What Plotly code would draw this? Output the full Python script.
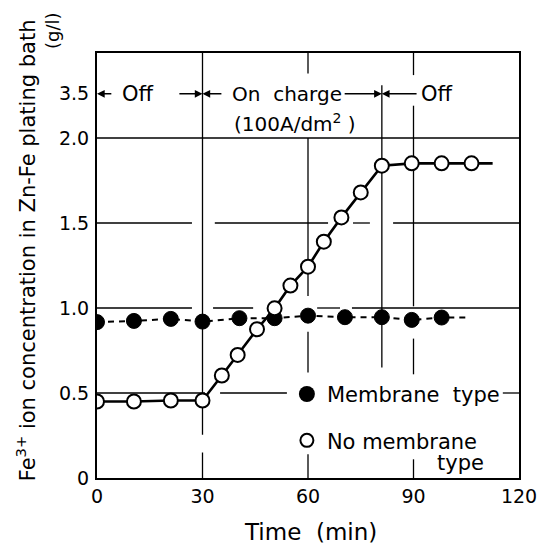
import plotly.graph_objects as go

# ---------------- data ----------------
membrane_time = [0, 10.5, 21, 30, 40.5, 50.5, 60, 70.5, 81, 89.5, 98]
membrane_conc = [0.917, 0.924, 0.936, 0.920, 0.940, 0.940, 0.955, 0.946, 0.946, 0.930, 0.944]
membrane_line_end_time = 105.0

nomem_time = [0, 10.5, 21, 30, 35.5, 40, 45.5, 50.5, 55, 60, 64.5, 69.5, 75, 81, 89.5, 98, 106.5]
nomem_conc = [0.450, 0.450, 0.456, 0.456, 0.603, 0.724, 0.875, 0.998, 1.132, 1.243,
              1.390, 1.533, 1.680, 1.837, 1.851, 1.851, 1.851]
nomem_line_end_time = 112.5

charge_start = 30
charge_end = 81

x_tickvals = [0, 30, 60, 90, 120]
x_ticktext = ["0", "30", "60", "90", "120"]
y_tickvals = [0, 0.5, 1.0, 1.5, 2.0, 2.26]
y_ticktext = ["0", "0.5", "1.0", "1.5", "2.0", "3.5"]

FONT = "DejaVu Sans"
NB = "\u00a0"

fig = go.Figure()

# lines (extended slightly past the last marker, as in the reference)
fig.add_trace(go.Scatter(
    x=membrane_time + [membrane_line_end_time],
    y=membrane_conc + [membrane_conc[-1]],
    mode="lines", line=dict(color="black", width=2, dash="6px,5px"),
    showlegend=False, hoverinfo="skip"))
fig.add_trace(go.Scatter(
    x=nomem_time + [nomem_line_end_time],
    y=nomem_conc + [nomem_conc[-1]],
    mode="lines", line=dict(color="black", width=2.6),
    showlegend=False, hoverinfo="skip"))
# markers
fig.add_trace(go.Scatter(
    x=membrane_time, y=membrane_conc, mode="markers",
    marker=dict(symbol="circle", size=15, color="black", line=dict(color="black", width=1)),
    showlegend=False))
fig.add_trace(go.Scatter(
    x=nomem_time, y=nomem_conc, mode="markers",
    marker=dict(symbol="circle", size=14, color="white", line=dict(color="black", width=2)),
    showlegend=False))
# legend entries (marker only)
fig.add_trace(go.Scatter(
    x=[None], y=[None], mode="markers", name="Membrane" + NB + NB + "type",
    legendgroup="a",
    marker=dict(symbol="circle", size=16, color="black")))
fig.add_trace(go.Scatter(
    x=[None], y=[None], mode="markers",
    name="No" + NB + "membrane",
    legendgroup="b",
    marker=dict(symbol="circle", size=13, color="white", line=dict(color="black", width=2))))

# ---------------- broken grid lines ----------------
h_segments = [
    (2.0, 0, 120),
    (1.5, 0, 27), (1.5, 33.5, 65.7), (1.5, 72.8, 77.6), (1.5, 84.2, 120),
    (1.0, 0, 27), (1.0, 33, 44.4), (1.0, 62.6, 69.1), (1.0, 72.5, 120),
    (0.5, 0, 30.7), (0.5, 35, 54), (0.5, 115.4, 120),
]
v_segments = [
    (30, 0, 0.15), (30, 0.255, 2.5),
    (60, 2.38, 2.5), (60, 1.07, 2.0), (60, 0.62, 0.86), (60, 0, 0.14),
    (90, 2.37, 2.5), (90, 1.01, 2.19), (90, 0.61, 0.82), (90, 0, 0.11),
    (charge_end, 0.65, 2.31),
]
shapes = []
for y, x0, x1 in h_segments:
    shapes.append(dict(type="line", xref="x", yref="y", x0=x0, x1=x1, y0=y, y1=y,
                       line=dict(color="black", width=1.3), layer="below"))
for x, y0, y1 in v_segments:
    shapes.append(dict(type="line", xref="x", yref="y", x0=x, x1=x, y0=y0, y1=y1,
                       line=dict(color="black", width=1.3), layer="below"))

# ---------------- annotations ----------------
row_y = 2.26
ann = []
def arrow(head, tail):
    ann.append(dict(x=head, y=row_y, ax=tail, ay=row_y, xref="x", yref="y",
                    axref="x", ayref="y", text="", showarrow=True,
                    arrowhead=2, arrowsize=1.1, arrowwidth=1.4, arrowcolor="black"))
arrow(0, 4.5)
arrow(charge_start, 23)
arrow(charge_start, 35.8)
arrow(charge_end, 70)
arrow(charge_end, 91.3)

def label(x, y, text, size=20):
    ann.append(dict(x=x, y=y, xref="x", yref="y", text=text, showarrow=False,
                    font=dict(family=FONT, size=size, color="black")))
label(11.7, row_y, "Off", 21)
label(54, row_y, "On" + NB + NB + "charge")
label(56.3, 2.09, "(100A/dm<sup>2</sup>" + NB + ")")
label(96.7, row_y, "Off", 21)
# second line of the "No membrane type" legend entry
label(103.3, 0.086, "type", 21)

# y-axis title (two rotated parts)
ann.append(dict(x=-0.168, y=0.536, xref="paper", yref="paper", showarrow=False,
                xanchor="center", yanchor="middle",
                text="Fe<sup>3+</sup>" + NB + "ion" + NB + "concentration" + NB + "in" + NB +
                     "Zn-Fe" + NB + "plating" + NB + "bath",
                textangle=-90, font=dict(family=FONT, size=21, color="black")))
ann.append(dict(x=-0.104, y=1.052, xref="paper", yref="paper", showarrow=False,
                xanchor="center", yanchor="middle",
                text="(g/l)", textangle=-90,
                font=dict(family=FONT, size=18, color="black")))
# x-axis title
ann.append(dict(x=0.505, y=-0.128, xref="paper", yref="paper", showarrow=False,
                xanchor="center", yanchor="middle",
                text="Time" + NB + NB + "(min)",
                font=dict(family=FONT, size=23, color="black")))

fig.update_layout(
    width=545, height=536,
    margin=dict(l=89, r=34, t=45, b=66),
    paper_bgcolor="white", plot_bgcolor="white",
    font=dict(family=FONT, size=19, color="black"),
    shapes=shapes, annotations=ann,
    legend=dict(x=0.45, y=0.245, xanchor="left", yanchor="top",
                bgcolor="rgba(0,0,0,0)", font=dict(family=FONT, size=21),
                itemsizing="trace", traceorder="grouped", tracegroupgap=16),
    xaxis=dict(range=[0, 120], tickvals=x_tickvals, ticktext=x_ticktext,
               showgrid=False, zeroline=False, showline=True, linecolor="black",
               linewidth=2, mirror=True, ticks="", automargin=False),
    yaxis=dict(range=[0, 2.5], tickvals=y_tickvals, ticktext=y_ticktext,
               showgrid=False, zeroline=False, showline=True, linecolor="black",
               linewidth=2, mirror=True, ticks="", ticklabelstandoff=2, automargin=False),
)

fig.write_html("out.html")
